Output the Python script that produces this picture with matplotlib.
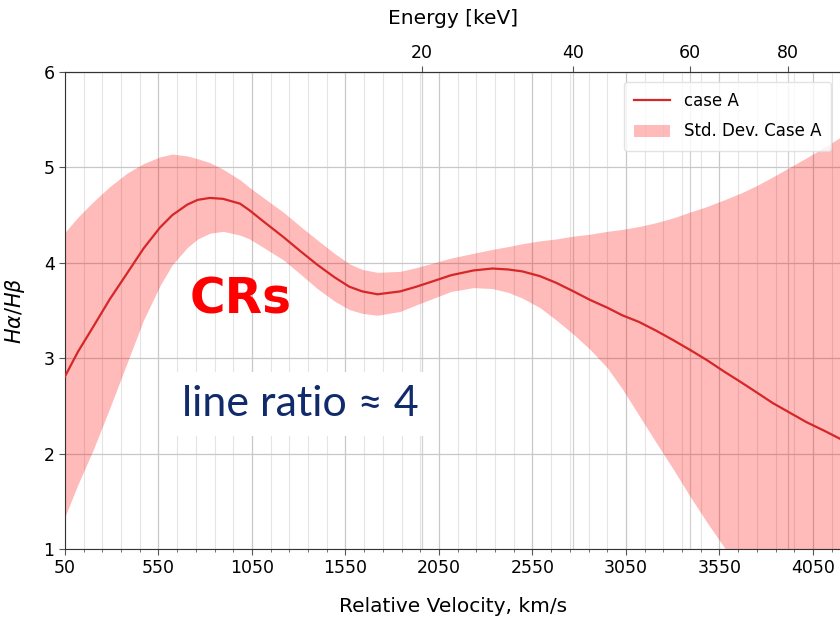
import numpy as np
import matplotlib
matplotlib.use("Agg")
import matplotlib.pyplot as plt
from matplotlib.ticker import MultipleLocator, FixedLocator

# Balmer decrement vs. relative velocity (case A)
velocity = [50, 120, 201, 290, 382, 470, 558, 624, 704, 760, 825, 896, 986,
            1037, 1120, 1218, 1310, 1399, 1490, 1570, 1640, 1721, 1842, 1930,
            2023, 2115, 2235, 2335, 2420, 2496, 2590, 2677, 2770, 2859, 2950,
            3030, 3120, 3210, 3302, 3390, 3483, 3575, 3664, 3750, 3835, 3925,
            4015, 4110, 4200]
ratio_mean = [2.81, 3.07, 3.33, 3.62, 3.89, 4.15, 4.37, 4.50, 4.61, 4.66,
              4.68, 4.67, 4.62, 4.55, 4.42, 4.27, 4.12, 3.98, 3.85, 3.75,
              3.70, 3.67, 3.70, 3.75, 3.81, 3.87, 3.92, 3.94, 3.93, 3.91,
              3.86, 3.79, 3.70, 3.61, 3.53, 3.45, 3.38, 3.29, 3.19, 3.09,
              2.98, 2.86, 2.75, 2.64, 2.53, 2.43, 2.33, 2.24, 2.15]
ratio_upper = [4.32, 4.48, 4.64, 4.80, 4.94, 5.04, 5.11, 5.14, 5.12, 5.09,
               5.05, 4.98, 4.87, 4.79, 4.67, 4.53, 4.38, 4.24, 4.10, 3.99,
               3.93, 3.90, 3.91, 3.95, 4.00, 4.05, 4.10, 4.14, 4.17, 4.20,
               4.23, 4.25, 4.28, 4.30, 4.33, 4.35, 4.38, 4.42, 4.47, 4.53,
               4.59, 4.66, 4.73, 4.81, 4.90, 5.00, 5.10, 5.21, 5.32]
ratio_lower = [1.34, 1.68, 2.04, 2.48, 2.95, 3.40, 3.76, 3.98, 4.16, 4.25,
               4.31, 4.33, 4.29, 4.25, 4.15, 4.03, 3.88, 3.73, 3.60, 3.51,
               3.47, 3.45, 3.49, 3.56, 3.63, 3.70, 3.74, 3.73, 3.69, 3.63,
               3.53, 3.40, 3.25, 3.09, 2.90, 2.68, 2.40, 2.12, 1.84, 1.56,
               1.28, 1.02, 0.76, 0.50, 0.25, 0.0, -0.25, -0.50, -0.75]

energy_ticks = [20, 40, 60, 80]          # keV
velocity_ticks = list(range(50, 4051, 500))

MP_KEV = 938272.0      # proton rest energy
C_KMS = 299792.458


def v_to_e(v):
    v = np.asarray(v, dtype=float)
    return 0.5 * MP_KEV * (v / C_KMS) ** 2


def e_to_v(e):
    e = np.asarray(e, dtype=float)
    return C_KMS * np.sqrt(np.abs(2.0 * e / MP_KEV))


plt.rcParams['font.family'] = ['DejaVu Sans']

fig = plt.figure(figsize=(8.4, 6.23), dpi=100)
ax = fig.add_axes([65 / 840, 1 - 549 / 623, 776 / 840, 477 / 623])

band = ax.fill_between(velocity, ratio_lower, ratio_upper, color='red',
                       alpha=0.27, linewidth=0, label='Std. Dev. Case A',
                       zorder=2)
line, = ax.plot(velocity, ratio_mean, color='#d62728', lw=1.6,
                label='case A', zorder=3)

ax.set_xlim(50, 4200)
ax.set_ylim(1, 6)
ax.xaxis.set_major_locator(FixedLocator(velocity_ticks))
ax.xaxis.set_minor_locator(MultipleLocator(100, offset=50))
ax.yaxis.set_major_locator(MultipleLocator(1))

ax.grid(True, which='major', color='#c8c8c8', lw=0.9, zorder=0)
ax.grid(True, which='minor', axis='x', color='#e4e4e4', lw=0.8, zorder=0)
for e in energy_ticks:
    ax.axvline(float(e_to_v(e)), color='#d2d2d2', lw=0.9, zorder=0)

ax.tick_params(axis='both', which='major', labelsize=12.5, length=4,
               color='#555555')
ax.tick_params(axis='x', which='minor', length=2, color='#555555')
for side in ('left', 'bottom', 'top'):
    ax.spines[side].set_color('#333333')
ax.spines['right'].set_visible(False)

ax.set_xlabel('Relative Velocity, km/s', fontsize=14.5, labelpad=14)
ax.set_ylabel(r'$H\alpha/H\beta$', fontsize=15, labelpad=12)

sec = ax.secondary_xaxis('top', functions=(v_to_e, e_to_v))
sec.set_xticks(energy_ticks)
sec.minorticks_off()
sec.tick_params(labelsize=12.5, length=4, color='#555555')
sec.set_xlabel('Energy [keV]', fontsize=14.5, labelpad=14)
sec.spines['top'].set_color('#333333')

leg = ax.legend([line, band], ['case A', 'Std. Dev. Case A'],
                loc='upper right', fontsize=12, framealpha=0.8,
                edgecolor='#dddddd', borderpad=0.6, labelspacing=0.75,
                handlelength=2.2, borderaxespad=0.6)
leg.set_zorder(6)

ax.text(718, 3.47, 'CRs', color='#ff0000', fontsize=35, fontweight='bold',
        ha='left', va='baseline', zorder=7)
ax.text(1307, 2.52, 'line ratio \u2248 4', color='#102a6b', fontsize=31,
        family=['Lato', 'DejaVu Sans'], ha='center', va='center', zorder=7,
        bbox=dict(boxstyle='square,pad=0.3', facecolor='white',
                  edgecolor='none'))

fig.savefig('out.png', dpi=100)
